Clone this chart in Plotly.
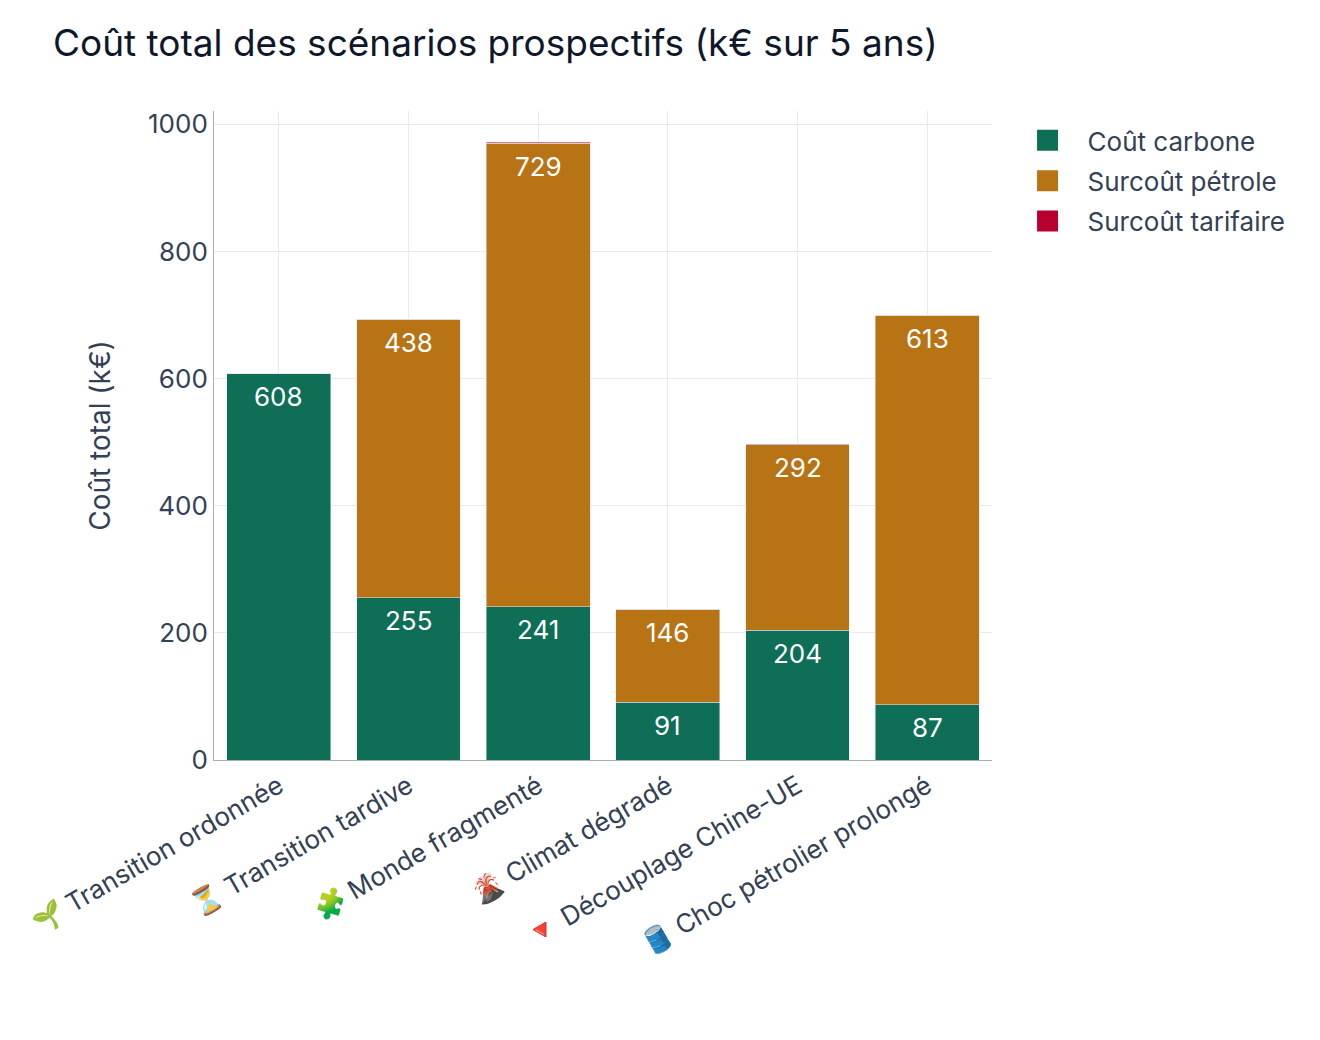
import plotly.graph_objects as go

# Scénarios et composantes du coût (k€ sur 5 ans)
scenarios = [
    "🌱 Transition ordonnée",
    "⏳ Transition tardive",
    "🧩 Monde fragmenté",
    "🌋 Climat dégradé",
    "🔻 Découplage Chine-UE",
    "🛢️ Choc pétrolier prolongé",
]
cout_carbone = [608, 255, 241, 91, 204, 87]
surcout_petrole = [0, 438, 729, 146, 292, 613]
surcout_tarifaire = [0, 0, 2, 0, 1, 0]

TEXT = "#334155"
GRID = "#e8eaef"
BODY_FONT = "Inter, sans-serif"
COLORS = {"carbone": "#0f6e56", "petrole": "#b87315", "tarif": "#b8002f"}
MIN_LABELLED = 50  # en dessous, le segment reste sans étiquette

fig = go.Figure()
series = [
    ("Coût carbone", cout_carbone, COLORS["carbone"]),
    ("Surcoût pétrole", surcout_petrole, COLORS["petrole"]),
    ("Surcoût tarifaire", surcout_tarifaire, COLORS["tarif"]),
]
for name, values, color in series:
    fig.add_trace(go.Bar(
        name=name, x=scenarios, y=values, marker_color=color, showlegend=False,
    ))

# Entrées de légende à pastille agrandie
for name, values, color in series:
    fig.add_trace(go.Scatter(
        name=name, x=[None], y=[None], mode="markers",
        marker=dict(symbol="square", size=16, color=color,
                    line=dict(color=color, width=5)),
        legendgroup=name,
    ))

# Étiquettes de valeur, calées sous le haut de chaque segment empilé
tops = [0] * len(scenarios)
for name, values, color in series:
    for i, value in enumerate(values):
        tops[i] += value
        if value >= MIN_LABELLED:
            fig.add_annotation(
                x=scenarios[i], y=tops[i], text=str(value), showarrow=False,
                yanchor="middle", yshift=-23,
                font=dict(color="white", size=26, family=BODY_FONT),
            )

fig.update_layout(
    barmode="stack",
    bargap=0.2,
    width=1320,
    height=1040,
    autosize=False,
    paper_bgcolor="white",
    plot_bgcolor="white",
    margin=dict(l=214, r=328, t=111, b=280),
    font=dict(family=BODY_FONT, color=TEXT, size=26),
    title=dict(
        text="Coût total des scénarios prospectifs (k€ sur 5 ans)",
        x=53 / 1320, xanchor="left", xref="container",
        y=1 - 43 / 1040, yanchor="middle", yref="container",
        font=dict(size=37, color="#0f172a", family=BODY_FONT),
    ),
    legend=dict(
        x=1.02, y=0.9908, yanchor="top", xanchor="left",
        font=dict(size=26, color=TEXT),
        traceorder="grouped",
        itemwidth=70,
        tracegroupgap=3.5,
    ),
    xaxis=dict(
        tickangle=-30, showgrid=True, gridcolor=GRID, gridwidth=1,
        showline=True, linecolor="#a3adbb", linewidth=1, ticks="",
        tickfont=dict(size=26, color=TEXT),
    ),
    yaxis=dict(
        title=dict(text="Coût total (k€)", font=dict(size=28, color=TEXT), standoff=29),
        range=[0, 1021], tickvals=[0, 200, 400, 600, 800, 1000],
        showgrid=True, gridcolor=GRID, gridwidth=1,
        showline=True, linecolor="#a3adbb", linewidth=1, ticks="", zeroline=False,
        tickfont=dict(size=26, color=TEXT),
    ),
)

fig.write_html("out.html")
